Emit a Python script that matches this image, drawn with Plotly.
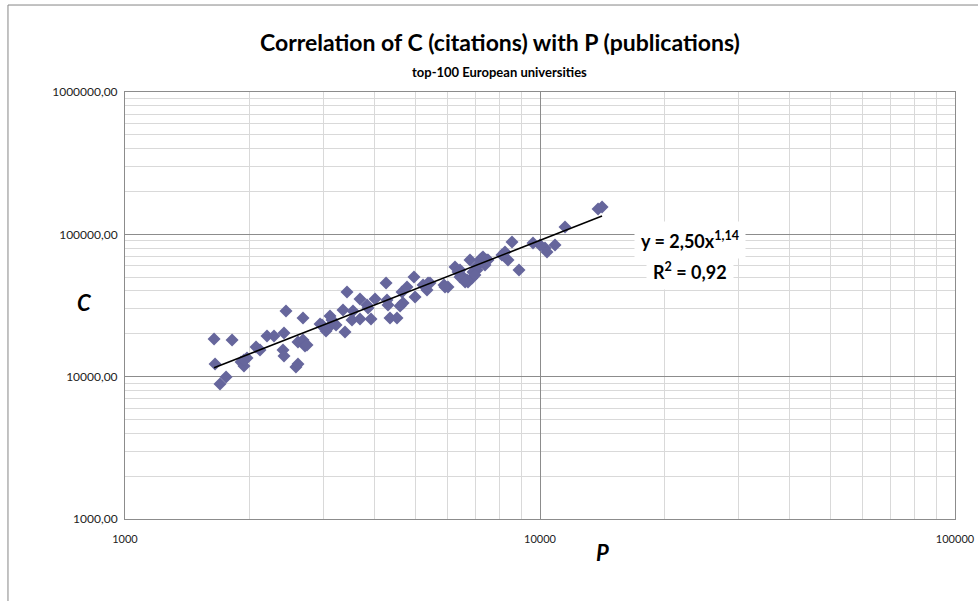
import numpy as np
import plotly.graph_objects as go

# publications (P) and citations (C)
pubs = [1639, 1648, 1694, 1752, 1811, 1904, 1935, 1968, 1935, 2069,
        2115, 2199, 2286, 2416, 2443, 2403, 2416, 2582, 2611, 2611,
        2685, 2715, 2685, 2745, 2951, 2983, 3050, 3085, 3119, 3154,
        3225, 3352, 3427, 3389, 3524, 3543, 3684, 3684, 3830, 3851,
        3916, 4004, 4256, 4279, 4303, 4351, 4523, 4651, 4781, 4677,
        4600, 4971, 4999, 5226, 5343, 5373, 5870, 6002, 6240, 6415,
        6523, 6706, 6856, 7049, 7248, 7452, 6781, 6345, 6415, 6669,
        6895, 7168, 7289, 7494, 7049, 8097, 8235, 8373, 8561, 8901,
        9619, 10000, 10280, 10396, 10868, 11488, 13801, 14109, 6600, 6970,
        7370, 5432, 5903]
cites = [18410, 12280, 8887, 9952, 18110, 12690, 11890, 13530, 13100, 16170,
         15400, 19320, 19320, 20290, 28960, 15400, 13980, 11700, 12280, 17540,
         18110, 16430, 25850, 16700, 23460, 23090, 20950, 21990, 26710, 25030,
         23090, 29430, 39370, 20610, 25030, 28960, 25440, 35160, 31910, 30400,
         25440, 35160, 45560, 34590, 31910, 25850, 25850, 39370, 42700, 32950,
         31400, 50180, 36320, 44100, 40680, 45560, 44100, 42700, 59000, 56220,
         50180, 46300, 49380, 56220, 68260, 66080, 66080, 54430, 50180, 47810,
         54430, 66080, 69370, 66080, 59970, 71650, 75200, 66080, 88430, 56220,
         87000, 84240, 80240, 75200, 84240, 112700, 150800, 155800, 46300, 51830,
         60950, 45560, 42700]

# power trendline as printed on the chart: y = 2,50 x^1,14
coef_a = 2.50
coef_b = 1.14
trend_x = np.array([min(pubs), max(pubs)])
trend_y = coef_a * trend_x ** coef_b

x_ticks = [1000, 10000, 100000]
x_labels = ['1000', '10000', '100000']
y_ticks = [1000, 10000, 100000, 1000000]
y_labels = ['1000,00', '10000,00', '100000,00', '1000000,00']
x_minor = [k * 10 ** e for e in (3, 4) for k in range(2, 10)]
y_minor = [k * 10 ** e for e in (3, 4, 5) for k in range(2, 10)]

major_grid = '#8c8c8c'
minor_grid = '#d9d9d9'
marker_color = '#66669c'
font = 'Lato, "Open Sans", sans-serif'

fig = go.Figure()
fig.add_trace(go.Scatter(
    x=pubs, y=cites, mode='markers',
    marker=dict(symbol='diamond', size=10, color=marker_color),
    showlegend=False))
fig.add_trace(go.Scatter(
    x=trend_x, y=trend_y, mode='lines',
    line=dict(color='black', width=1.5),
    showlegend=False))

axis_common = dict(
    type='log', showline=True, linecolor=major_grid, linewidth=1, mirror=True,
    gridcolor=major_grid, gridwidth=1, zeroline=False, automargin=False,
    ticks='outside', tickcolor='rgba(0,0,0,0)',
)

fig.update_xaxes(
    range=[3, 5], tickmode='array', tickvals=x_ticks, ticktext=x_labels,
    ticklen=10, tickfont=dict(family=font, size=11, color='#222'),
    minor=dict(tickmode='array', tickvals=x_minor, showgrid=True,
               gridcolor=minor_grid, ticks=''),
    **axis_common)
fig.update_yaxes(
    range=[3, 6], tickmode='array', tickvals=y_ticks, ticktext=y_labels,
    ticklen=4, tickfont=dict(family=font, size=12, color='#222'),
    minor=dict(tickmode='array', tickvals=y_minor, showgrid=True,
               gridcolor=minor_grid, ticks=''),
    **axis_common)


def note(text, x, y, size, **kw):
    return dict(text=text, xref='paper', yref='paper', x=x, y=y,
                xanchor='center', yanchor='middle', showarrow=False,
                font=dict(size=size, color='black'), **kw)


fig.update_layout(
    width=978, height=601,
    margin=dict(l=125, r=23, t=92, b=82),
    plot_bgcolor='white', paper_bgcolor='white',
    font=dict(family=font),
    shapes=[dict(type='rect', xref='paper', yref='paper',
                 x0=-0.141, x1=1.04, y0=-0.22, y1=1.2037,
                 line=dict(color='#868686', width=1), layer='below')],
    annotations=[
        note('<b>Correlation of C (citations) with P (publications)</b>',
             0.4518, 1.117, 23),
        note('<b>top-100 European universities</b>', 0.4518, 1.047, 13),
        note('<b>y = 2,50x<sup>1,14</sup></b>', 0.6807, 0.6534, 18,
             bgcolor='white', borderpad=6),
        note('<b>R<sup>2</sup> = 0,92</b>', 0.6807, 0.5808, 18,
             bgcolor='white', borderpad=6),
        note('<b><i>C</i></b>', -0.0482, 0.506, 22),
        note('<b><i>P</i></b>', 0.5759, -0.0773, 22),
    ],
)

# drop the default page margin so the figure fills the window exactly
fig.write_html('out.html', config={'displayModeBar': False},
               post_script="document.body.style.margin='0';")
